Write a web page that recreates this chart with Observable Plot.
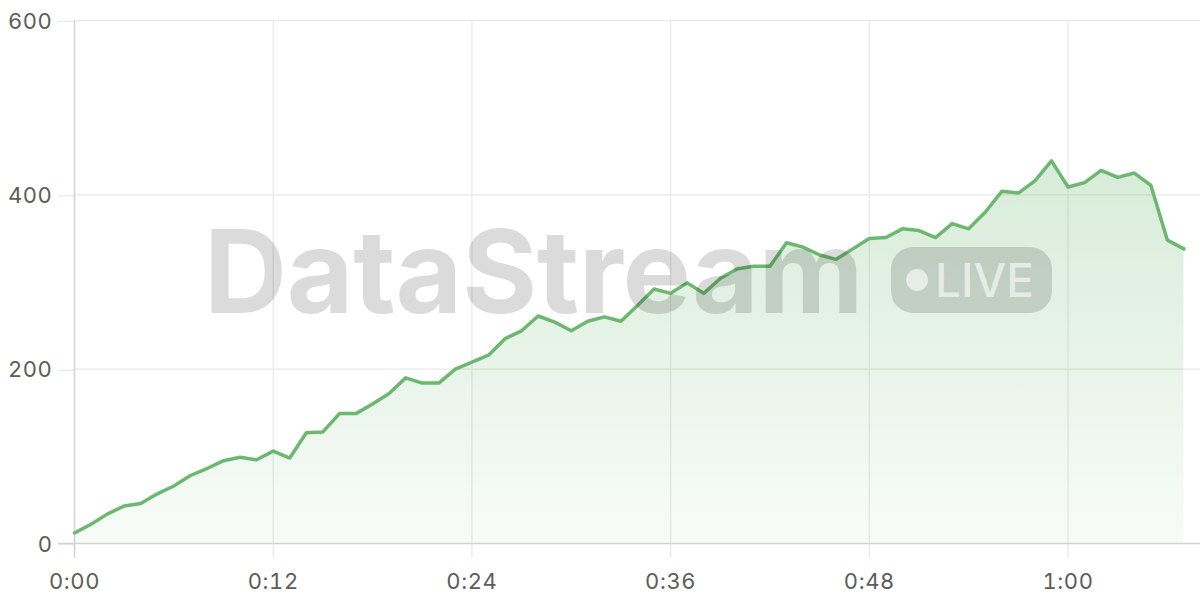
<!DOCTYPE html>
<html>
<head>
<meta charset="utf-8">
<script src="https://cdn.jsdelivr.net/npm/d3@7"></script>
<script src="https://cdn.jsdelivr.net/npm/@observablehq/plot@0.6"></script>
<style>
  html, body { margin: 0; padding: 0; background: #fff; }
  #wrap { position: relative; width: 1200px; height: 600px; overflow: hidden; font-family: Inter, "Noto Sans", sans-serif; }
  #wrap svg text { letter-spacing: 0.6px; }
  .wm-text { position: absolute; left: 204px; top: 214px; font-size: 115px; line-height: 1; font-weight: 700; color: rgba(0,0,0,0.14); letter-spacing: -0.3px; white-space: nowrap; }
  .wm-badge { position: absolute; left: 891px; top: 247px; width: 161px; height: 66px; border-radius: 22px; background: rgba(0,0,0,0.14); }
  .wm-dot { position: absolute; left: 906px; top: 269px; width: 22px; height: 22px; border-radius: 50%; background: rgba(255,255,255,0.6); }
  .wm-live { position: absolute; left: 935px; top: 257px; font-size: 46px; line-height: 1; font-weight: 500; color: rgba(255,255,255,0.6); white-space: nowrap; }
</style>
</head>
<body>
<div id="wrap"></div>
<script>
// elapsed time (seconds)
const times = [0,1,2,3,4,5,6,7,8,9,10,11,12,13,14,15,16,17,18,19,20,21,22,23,24,25,26,27,28,29,30,31,32,33,34,35,36,37,38,39,40,41,42,43,44,45,46,47,48,49,50,51,52,53,54,55,56,57,58,59,60,61,62,63,64,65,66,67];
const values = [12,22,34,43,46,57,66,78,86,95,99,96,106,98,127,128,149,149,160,172,190,184,184,200,208,216,235,244,261,254,244,255,260,255,273,292,287,299,287,304,315,318,318,345,340,331,326,338,350,351,361,359,351,367,361,380,404,402,416,439,409,414,428,420,425,411,348,338];
const xTicks = [0,12,24,36,48,60];
const yTicks = [0,200,400,600];
const xDomain = [0,68];
const yDomain = [0,600];
const watermark = "DataStream";
const badgeLabel = "LIVE";

const data = times.map((t, i) => ({t, v: values[i]}));
const fmt = t => `${Math.floor(t/60)}:${String(t%60).padStart(2,"0")}`;

const lineColor = "#6db870";
const gridColor = "#e8e8e8";
const axisColor = "#d3d3d3";
const textColor = "#5c5c5c";

const chart = Plot.plot({
  width: 1200,
  height: 600,
  marginLeft: 74,
  marginRight: 0,
  marginTop: 20,
  marginBottom: 57,
  style: {fontFamily: "Inter, 'Noto Sans', sans-serif", fontSize: "22px", background: "transparent", overflow: "visible"},
  x: {domain: xDomain, label: null},
  y: {domain: yDomain, label: null},
  marks: [
    Plot.gridX(xTicks, {stroke: gridColor, strokeOpacity: 1, strokeWidth: 1.2}),
    Plot.gridY(yTicks, {stroke: gridColor, strokeOpacity: 1, strokeWidth: 1.2}),
    Plot.axisX(xTicks, {tickSize: 15, tickPadding: 15, stroke: gridColor, strokeWidth: 1.2, fill: textColor, tickFormat: fmt}),
    Plot.axisY(yTicks, {tickSize: 16, tickPadding: 6, stroke: gridColor, strokeWidth: 1.2, fill: textColor, dy: 1}),
    Plot.areaY(data, {x: "t", y: "v", fill: "url(#areaGrad)"}),
    Plot.ruleX([0], {stroke: axisColor, strokeWidth: 1.5, insetBottom: -15}),
    Plot.ruleY([0], {stroke: axisColor, strokeWidth: 1.5, insetLeft: -16}),
    Plot.lineY(data, {x: "t", y: "v", stroke: lineColor, strokeWidth: 3.5, strokeLinejoin: "round"})
  ]
});

const ns = "http://www.w3.org/2000/svg";
const defs = document.createElementNS(ns, "defs");
defs.innerHTML = `<linearGradient id="areaGrad" x1="0" y1="0" x2="0" y2="1">
  <stop offset="0%" stop-color="${lineColor}" stop-opacity="0.27"/>
  <stop offset="100%" stop-color="${lineColor}" stop-opacity="0.05"/>
</linearGradient>`;
chart.insertBefore(defs, chart.firstChild);

const wrap = document.getElementById("wrap");
wrap.appendChild(chart);

const wm = document.createElement("div");
wm.className = "wm-text"; wm.textContent = watermark;
const badge = document.createElement("div"); badge.className = "wm-badge";
const dot = document.createElement("div"); dot.className = "wm-dot";
const live = document.createElement("div"); live.className = "wm-live"; live.textContent = badgeLabel;
wrap.append(wm, badge, dot, live);
</script>
</body>
</html>
